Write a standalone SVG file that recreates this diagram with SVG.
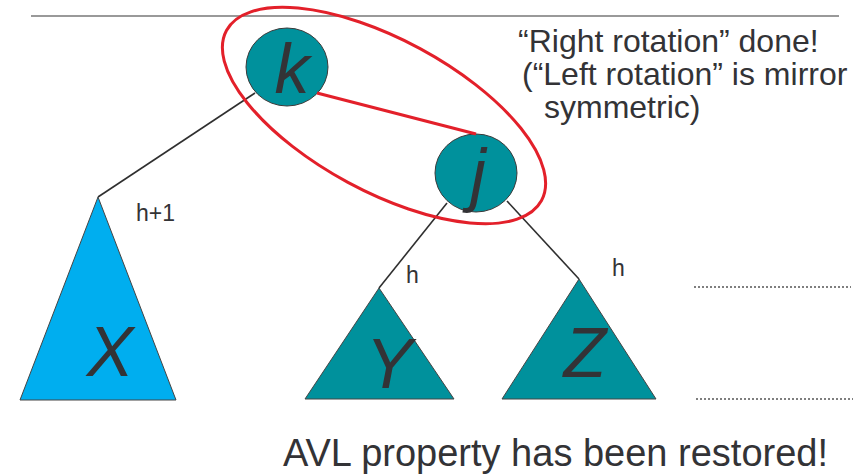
<svg xmlns="http://www.w3.org/2000/svg" width="863" height="475" viewBox="0 0 863 475">
  <style>
    .edge { stroke: #2f2f2f; stroke-width: 1.6; fill: none; }
    .node { fill: #00919C; stroke: #3a3a3a; stroke-width: 1; }
    .tri { stroke: #444; stroke-width: 1; }
    .big { font-family: "Liberation Sans", Arial, sans-serif; font-style: italic; font-size: 70px; fill: #333336; text-anchor: middle; }
    .lbl { font-family: "Liberation Sans", Arial, sans-serif; font-size: 23px; fill: #333336; }
    .note { font-family: "Liberation Sans", Arial, sans-serif; font-size: 32px; fill: #333336; }
    .red { stroke: #E3202A; stroke-width: 3; fill: none; }
    .dots { stroke: #555; stroke-width: 1.5; stroke-dasharray: 2 2; }
  </style>
  <rect width="863" height="475" fill="#ffffff"/>
  <line x1="31" y1="16" x2="839" y2="16" stroke="#777" stroke-width="1.5"/>

  <g id="connectors">
    <line class="edge" x1="255" y1="93" x2="98" y2="197"/>
    <line class="edge" x1="447" y1="203" x2="379" y2="288"/>
    <line class="edge" x1="507" y1="201" x2="579" y2="279"/>
  </g>

  <g id="subtree-X">
    <polygon class="tri" points="98,197 20,400 176,400" fill="#00AEEF"/>
    <text class="big" x="110" y="376">X</text>
  </g>
  <g id="subtree-Y">
    <polygon class="tri" points="379,288 305,399 454,399" fill="#00919C"/>
    <text class="big" x="389" y="388">Y</text>
  </g>
  <g id="subtree-Z">
    <polygon class="tri" points="579,279 502,399 656,399" fill="#00919C"/>
    <text class="big" x="585" y="377">Z</text>
  </g>

  <g id="node-k">
    <ellipse class="node" cx="287" cy="67" rx="41" ry="39"/>
    <text class="big" x="292" y="93">k</text>
  </g>
  <g id="node-j">
    <ellipse class="node" cx="476" cy="173" rx="41" ry="39"/>
    <text class="big" x="478" y="198">j</text>
  </g>

  <g id="highlight">
    <ellipse class="red" cx="384" cy="115.5" rx="179" ry="76" transform="rotate(28.35 384 115.5)"/>
    <line class="red" x1="317" y1="93" x2="476" y2="134"/>
  </g>

  <g id="labels">
    <text class="lbl" x="136" y="221">h+1</text>
    <text class="lbl" x="406" y="283">h</text>
    <text class="lbl" x="612" y="276">h</text>
  </g>

  <g id="note">
    <text class="note" x="518" y="52">“Right rotation” done!</text>
    <text class="note" x="522" y="85">(“Left rotation” is mirror</text>
    <text class="note" x="544" y="118">symmetric)</text>
  </g>

  <g id="levels">
    <line class="dots" x1="694" y1="287" x2="851" y2="287"/>
    <line class="dots" x1="696" y1="399" x2="853" y2="399"/>
  </g>

  <text class="note" x="283" y="466" style="font-size:38px">AVL property has been restored!</text>
</svg>
